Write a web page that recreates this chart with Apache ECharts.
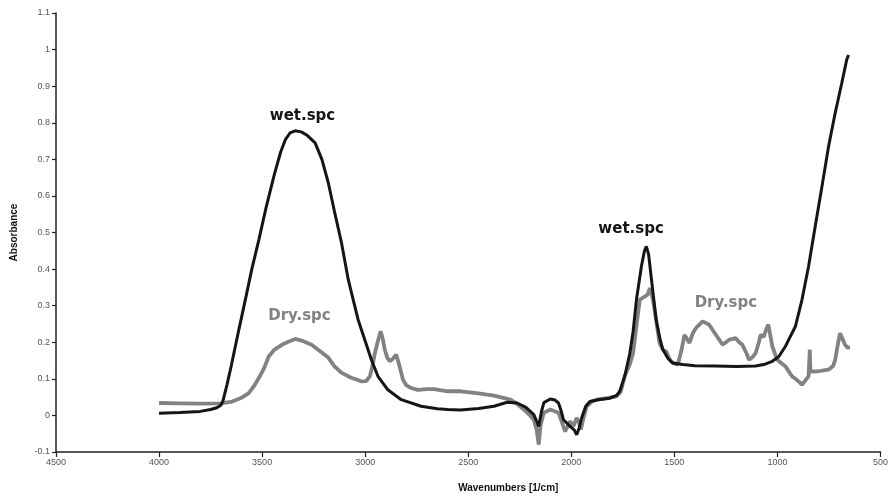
<!DOCTYPE html>
<html>
<head>
<meta charset="utf-8">
<script src="https://cdn.jsdelivr.net/npm/echarts@6/dist/echarts.min.js"></script>
<style>html,body{margin:0;padding:0;background:#fff}#c{width:891px;height:501px}</style>
</head>
<body>
<div id="c"></div>
<script>
// Wavenumbers (1/cm) and absorbance for the wet spectrum
const wetX = [4000,3900,3800,3750,3720,3700,3690,3670,3650,3613,3580,3550,3516,3480,3440,3410,3388,3365,3340,3310,3280,3243,3210,3179,3150,3115,3082,3058,3034,3002,2970,2938,2890,2825,2729,2650,2600,2538,2450,2375,2311,2263,2220,2182,2165,2158,2145,2133,2102,2080,2062,2048,2038,2006,1985,1974,1962,1950,1930,1910,1870,1813,1780,1765,1741,1716,1700,1684,1660,1645,1636,1625,1611,1588,1570,1556,1530,1507,1459,1400,1300,1200,1106,1060,1025,993,961,945,913,881,849,817,784,752,720,688,664,655];
const wetY = [0.006,0.008,0.011,0.016,0.021,0.028,0.04,0.085,0.135,0.234,0.32,0.40,0.48,0.57,0.66,0.72,0.753,0.772,0.778,0.775,0.765,0.745,0.70,0.636,0.56,0.472,0.371,0.316,0.261,0.207,0.152,0.107,0.07,0.043,0.025,0.018,0.016,0.015,0.019,0.025,0.036,0.034,0.022,0.002,-0.02,-0.03,0.01,0.035,0.045,0.042,0.034,0.01,-0.012,-0.03,-0.04,-0.053,-0.035,-0.007,0.025,0.038,0.043,0.047,0.055,0.066,0.107,0.17,0.23,0.316,0.407,0.45,0.462,0.44,0.371,0.26,0.21,0.18,0.155,0.143,0.139,0.136,0.135,0.134,0.135,0.14,0.148,0.161,0.189,0.207,0.243,0.316,0.407,0.516,0.626,0.735,0.826,0.908,0.972,0.985];
// Wavenumbers (1/cm) and absorbance for the dry spectrum
const dryX = [4000,3900,3800,3700,3645,3600,3565,3540,3516,3490,3468,3440,3404,3370,3339,3300,3260,3230,3179,3150,3116,3068,3040,3018,2995,2977,2965,2953,2940,2925,2915,2905,2893,2881,2865,2850,2841,2833,2817,2800,2777,2745,2700,2665,2600,2536,2450,2375,2295,2260,2230,2200,2182,2168,2158,2150,2134,2102,2062,2045,2030,2018,2006,1990,1974,1962,1954,1940,1925,1900,1877,1820,1781,1760,1741,1732,1716,1700,1685,1668,1644,1630,1619,1605,1596,1572,1556,1540,1520,1507,1483,1465,1451,1440,1427,1410,1395,1363,1331,1298,1266,1250,1234,1202,1185,1170,1150,1138,1120,1106,1090,1082,1066,1055,1044,1035,1025,1001,961,945,929,913,897,881,865,849,843,840,820,790,752,730,720,705,696,685,672,660,648];
const dryY = [0.034,0.033,0.032,0.033,0.038,0.048,0.061,0.08,0.102,0.13,0.161,0.18,0.193,0.202,0.209,0.203,0.193,0.18,0.158,0.135,0.117,0.103,0.098,0.093,0.094,0.107,0.135,0.17,0.2,0.23,0.21,0.18,0.158,0.148,0.155,0.166,0.15,0.134,0.098,0.082,0.075,0.07,0.072,0.072,0.066,0.066,0.06,0.054,0.043,0.03,0.016,0.0,-0.012,-0.04,-0.08,-0.03,0.007,0.016,0.007,-0.02,-0.044,-0.03,-0.016,-0.03,-0.007,-0.02,-0.039,-0.005,0.025,0.038,0.043,0.048,0.052,0.065,0.107,0.11,0.14,0.171,0.24,0.316,0.325,0.33,0.348,0.32,0.289,0.198,0.18,0.175,0.15,0.143,0.139,0.18,0.22,0.21,0.198,0.225,0.239,0.257,0.248,0.22,0.193,0.2,0.207,0.211,0.2,0.193,0.17,0.152,0.16,0.17,0.2,0.22,0.215,0.235,0.248,0.22,0.189,0.152,0.134,0.12,0.107,0.1,0.093,0.084,0.095,0.107,0.18,0.12,0.12,0.122,0.125,0.135,0.152,0.2,0.225,0.21,0.193,0.185,0.186];
// Annotation labels: [wavenumber, absorbance, text]
const wetLabels = [[3304, 0.819, 'wet.spc'], [1710, 0.510, 'wet.spc']];
const dryLabels = [[3319, 0.272, 'Dry.spc'], [1250, 0.307, 'Dry.spc']];
const xTitle = 'Wavenumbers [1/cm]';
const yTitle = 'Absorbance';

const wetData = wetX.map((x, i) => [x, wetY[i]]);
const dryData = dryX.map((x, i) => [x, dryY[i]]);

function mp(list, color) {
  return {
    symbol: 'circle', symbolSize: 0, silent: true,
    label: { show: true, position: 'inside', color: color, fontFamily: 'DejaVu Sans', fontWeight: 'bold', fontSize: 15, formatter: p => p.name },
    data: list.map(l => ({ coord: [l[0], l[1]], name: l[2] }))
  };
}

const chart = echarts.init(document.getElementById('c'), null, { renderer: 'canvas' });
chart.setOption({
  animation: false,
  backgroundColor: '#ffffff',
  grid: { left: 56, right: 5, top: 13, bottom: 49, containLabel: false },
  xAxis: {
    type: 'value', inverse: true, min: 500, max: 4500, interval: 500,
    name: xTitle, nameLocation: 'middle', nameGap: 31,
    nameTextStyle: { fontFamily: 'Liberation Sans', fontWeight: 'bold', fontSize: 10, color: '#111', padding: [0, 0, 0, 80] },
    axisLine: { onZero: false, lineStyle: { color: '#222', width: 1.5 } },
    axisTick: { show: true, length: 5, lineStyle: { color: '#222', width: 1.2 } },
    axisLabel: { fontFamily: 'Liberation Sans', fontSize: 9, color: '#555', margin: 6, formatter: v => String(v) },
    splitLine: { show: false }
  },
  yAxis: {
    type: 'value', min: -0.1, max: 1.1, interval: 0.1,
    name: yTitle, nameLocation: 'middle', nameGap: 37, nameRotate: 90,
    nameTextStyle: { fontFamily: 'Liberation Sans', fontWeight: 'bold', fontSize: 10, color: '#111' },
    axisLine: { show: true, onZero: false, lineStyle: { color: '#222', width: 1.5 } },
    axisTick: { show: true, length: 4, lineStyle: { color: '#222', width: 1.2 } },
    axisLabel: { fontFamily: 'Liberation Sans', fontSize: 9, color: '#555', margin: 6, formatter: v => String(+v.toFixed(1)) },
    splitLine: { show: false }
  },
  series: [
    {
      name: 'Dry.spc', type: 'line', data: dryData, showSymbol: false, smooth: false,
      lineStyle: { color: '#828282', width: 3.8 }, itemStyle: { color: '#828282' },
      markPoint: mp(dryLabels, '#828282'), z: 2
    },
    {
      name: 'wet.spc', type: 'line', data: wetData, showSymbol: false, smooth: false,
      lineStyle: { color: '#151515', width: 3 }, itemStyle: { color: '#151515' },
      markPoint: mp(wetLabels, '#151515'), z: 3
    }
  ]
});
</script>
</body>
</html>
